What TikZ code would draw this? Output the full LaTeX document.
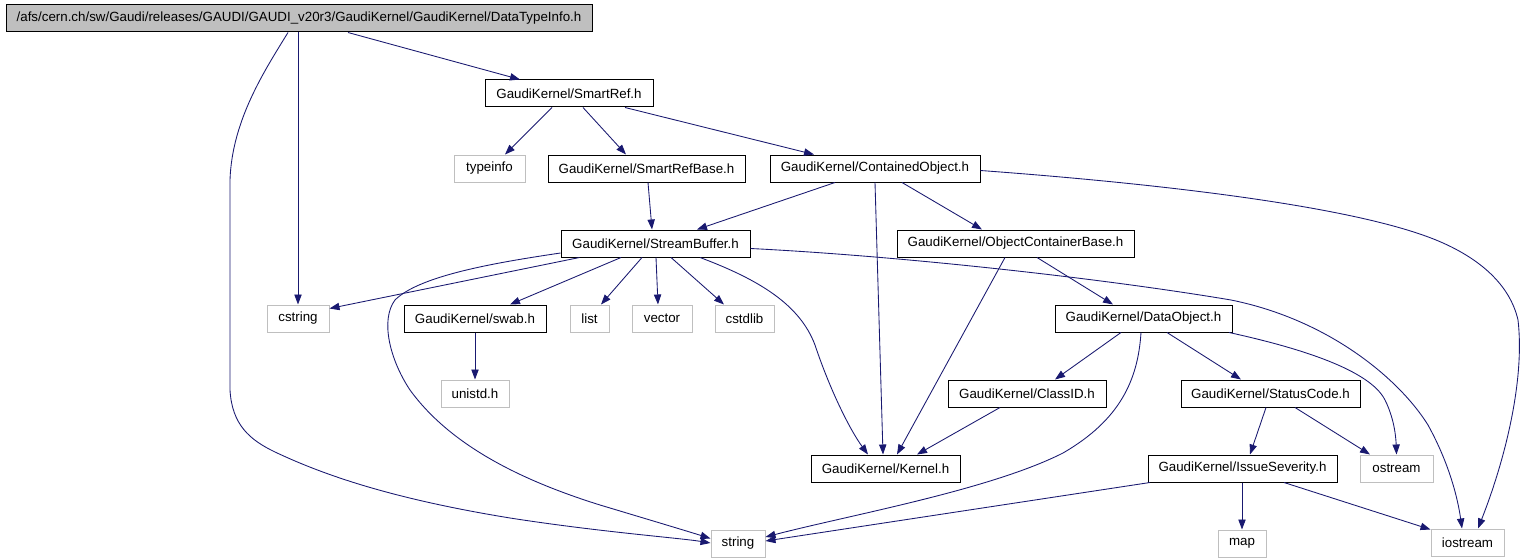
\documentclass[tikz,border=0pt]{standalone}
\usepackage{fontspec}
\setmainfont{Liberation Sans}
\usetikzlibrary{arrows.meta,calc}
\definecolor{edgeblue}{RGB}{25,25,112}
\definecolor{graybd}{RGB}{191,191,191}
\begin{document}
\begin{tikzpicture}[x=0.75pt,y=-0.75pt,
  nd/.style={draw=black,line width=0.75pt,minimum height=20.25pt,inner sep=0pt,font=\fontsize{10}{12}\selectfont},
  ext/.style={nd,draw=graybd},
  rootnd/.style={nd,fill=graybd},
  wd/.style={minimum width=#1*0.75pt},
  e/.style={draw=edgeblue,line width=0.65pt,-{Triangle[length=7.5pt,width=5.5pt]}}]
\useasboundingbox (0,0) rectangle (1522,560);
% nodes
\node[rootnd,wd=586] (root) at (299,18.5) {/afs/cern.ch/sw/Gaudi/releases/GAUDI/GAUDI\_v20r3/GaudiKernel/GaudiKernel/DataTypeInfo.h};
\node[nd,wd=168] (smartref) at (569,93.5) {GaudiKernel/SmartRef.h};
\node[ext,wd=71] (typeinfo) at (489.5,168.5) {typeinfo};
\node[nd,wd=197] (smartrefbase) at (646.5,168.5) {GaudiKernel/SmartRefBase.h};
\node[nd,wd=210] (contained) at (875,168.5) {GaudiKernel/ContainedObject.h};
\node[nd,wd=189] (stream) at (655.5,243.5) {GaudiKernel/StreamBuffer.h};
\node[nd,wd=237] (ocb) at (1015.5,243.5) {GaudiKernel/ObjectContainerBase.h};
\node[ext,wd=62] (cstring) at (298,318.5) {cstring};
\node[nd,wd=142] (swab) at (475,318.5) {GaudiKernel/swab.h};
\node[ext,wd=39] (list) at (589.5,318.5) {list};
\node[ext,wd=60] (vector) at (662,318.5) {vector};
\node[ext,wd=59] (cstdlib) at (744.5,318.5) {cstdlib};
\node[nd,wd=177] (dataobj) at (1143.5,318.5) {GaudiKernel/DataObject.h};
\node[ext,wd=68] (unistd) at (475,393.5) {unistd.h};
\node[nd,wd=158] (classid) at (1027,393.5) {GaudiKernel/ClassID.h};
\node[nd,wd=179] (status) at (1270.5,393.5) {GaudiKernel/StatusCode.h};
\node[nd,wd=149] (kernel) at (885.5,468.5) {GaudiKernel/Kernel.h};
\node[nd,wd=189] (issue) at (1242.5,468.5) {GaudiKernel/IssueSeverity.h};
\node[ext,wd=73] (ostream) at (1396.5,468.5) {ostream};
\node[ext,wd=54] (string) at (738,543.5) {string};
\node[ext,wd=48] (map) at (1242,543.5) {map};
\node[ext,wd=73] (iostream) at (1467.5,542.5) {iostream};
% edges
\draw[e] ($(root.south)+(49,0)$) -- ($(smartref.north)+(-49,0)$);
\draw[e] (cstring.north |- root.south) -- (cstring.north);
\draw[e] ($(root.south)+(-11,0)$) .. controls (265,70) and (232,120) .. (230,180) -- (230,390)
  .. controls (232,425) and (250,440) .. (275,452) .. controls (330,478) and (400,500) .. (510,518)
  .. controls (600,532) and (680,538) .. ($(string.west)+(0,-0.5)$);
\draw[e] ($(smartref.south)+(-17,0)$) -- ($(typeinfo.north)+(15.5,0)$);
\draw[e] ($(smartref.south)+(14,0)$) -- ($(smartrefbase.north)+(-20.5,0)$);
\draw[e] ($(smartref.south)+(56,0)$) -- ($(contained.north)+(-61,0)$);
\draw[e] ($(smartrefbase.south)+(1.5,0)$) -- ($(stream.north)+(-3.5,0)$);
\draw[e] ($(contained.south)+(-40,0)$) -- ($(stream.north)+(41.5,0)$);
\draw[e] (contained.south) -- ($(kernel.north)+(-2.5,0)$);
\draw[e] ($(contained.south)+(27,0)$) -- ($(ocb.north)+(-33.5,0)$);
\draw[e] ($(contained.east)+(0,2)$) .. controls (1150,183) and (1350,205) .. (1436,240)
  .. controls (1480,258) and (1510,285) .. (1518,320)
  .. controls (1525,380) and (1505,460) .. ($(iostream.north)+(10.5,0)$);
\draw[e] ($(stream.south)+(-76,0)$) -- ($(cstring.east)+(0,-10)$);
\draw[e] ($(stream.west)+(0,9.5)$) .. controls (500,262) and (420,275) .. (395,300)
  .. controls (380,320) and (390,360) .. (410,390)
  .. controls (450,445) and (520,480) .. (600,505)
  .. controls (650,520) and (690,532) .. ($(string.west)+(0,-5)$);
\draw[e] ($(stream.south)+(-34.5,0)$) -- ($(swab.north)+(35,0)$);
\draw[e] ($(stream.south)+(-13.5,0)$) -- ($(list.north)+(11.5,0)$);
\draw[e] ($(stream.south)+(0.5,0)$) -- ($(vector.north)+(-4,0)$);
\draw[e] ($(stream.south)+(15.5,0)$) -- ($(cstdlib.north)+(-20.5,0)$);
\draw[e] ($(stream.south)+(44.5,0)$) .. controls (760,280) and (800,305) .. (815,345)
  .. controls (830,390) and (850,430) .. ($(kernel.north)+(-17.5,0)$);
\draw[e] ($(stream.east)+(0,5)$) .. controls (900,256) and (1100,278) .. (1231,300)
  .. controls (1330,320) and (1400,380) .. (1428,425)
  .. controls (1450,465) and (1458,500) .. ($(iostream.north)+(-5.5,0)$);
\draw[e] (swab.south) -- (unistd.north);
\draw[e] ($(ocb.south)+(-10.5,0)$) -- ($(kernel.north)+(11.5,0)$);
\draw[e] ($(ocb.south)+(21.5,0)$) -- ($(dataobj.north)+(-30.5,0)$);
\draw[e] ($(dataobj.south)+(-22.5,0)$) -- ($(classid.north)+(28,0)$);
\draw[e] ($(dataobj.south)+(-2.5,0)$) .. controls (1138,380) and (1120,420) .. (1063,453)
  .. controls (990,490) and (850,515) .. ($(string.east)+(0,-6.5)$);
\draw[e] ($(dataobj.south)+(23.5,0)$) -- ($(status.north)+(-29.5,0)$);
\draw[e] ($(dataobj.south)+(85.5,0)$) .. controls (1300,348) and (1370,370) .. (1385,400)
  .. controls (1395,420) and (1396,440) .. ($(ostream.north)+(0,0)$);
\draw[e] ($(classid.south)+(-27,0)$) -- ($(kernel.north)+(31.5,0)$);
\draw[e] ($(status.south)+(-4.5,0)$) -- ($(issue.north)+(7.5,0)$);
\draw[e] ($(status.south)+(24.5,0)$) -- ($(ostream.north)+(-26.5,0)$);
\draw[e] ($(issue.south)+(-92.5,0)$) -- ($(string.east)+(0,-2.5)$);
\draw[e] (map.north |- issue.south) -- (map.north);
\draw[e] ($(issue.south)+(41.5,0)$) -- ($(iostream.north west)+(0,1)$);
\end{tikzpicture}
\end{document}
